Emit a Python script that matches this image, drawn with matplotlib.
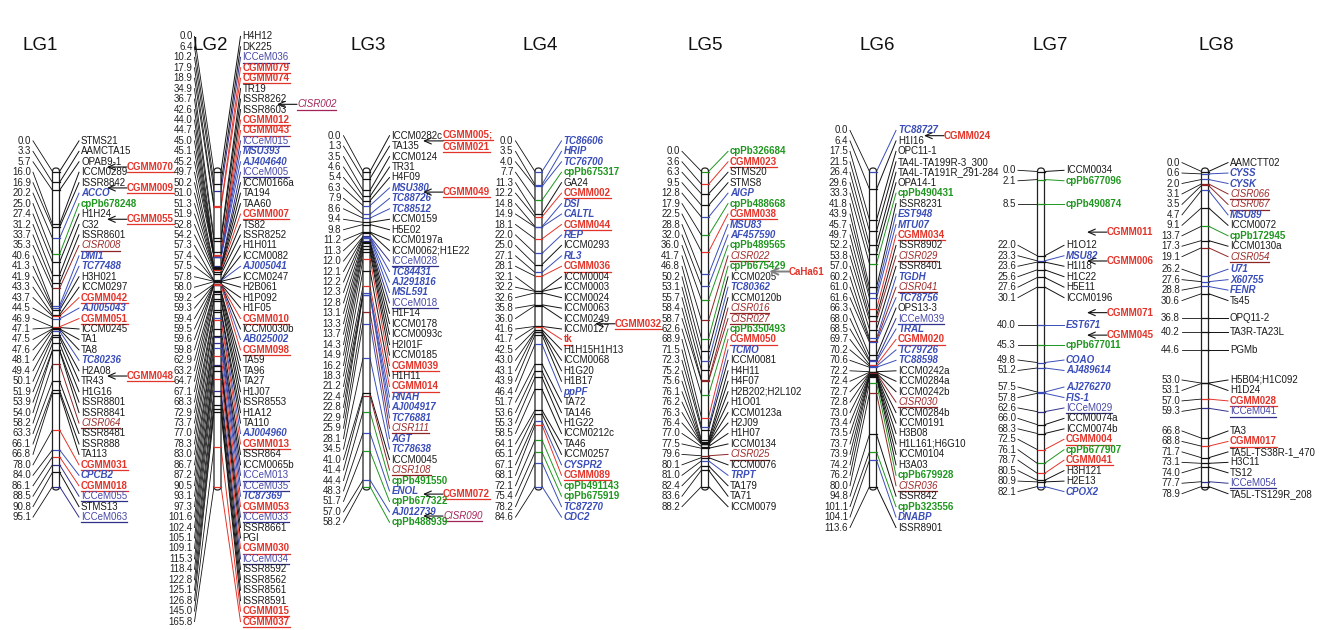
import matplotlib
matplotlib.use('Agg')
import matplotlib.pyplot as plt
from matplotlib.patches import FancyBboxPatch

plt.rcParams['font.family'] = ['Liberation Sans', 'DejaVu Sans']

# ---- data: positions (cM), marker names, marker class per linkage group ----
# classes: k plain, r CGMM, c CISR, b gene based, u ICCeM, p cpPb
lg1_pos = [0.0, 3.3, 5.7, 16.0, 16.9, 20.2, 25.0, 27.4, 31.2, 33.7, 35.3, 40.6, 41.3, 41.9,
           43.3, 43.7, 44.5, 46.9, 47.1, 47.5, 47.6, 48.1, 49.4, 50.1, 51.9, 53.9, 54.0, 58.2,
           63.3, 66.1, 66.8, 78.0, 84.0, 86.1, 88.5, 90.8, 95.1]
lg1_names = ['STMS21', 'AAMCTA15', 'OPAB9-1', 'ICCM0289', 'ISSR8842', 'ACCO', 'cpPb678248',
             'H1H24', 'C32', 'ISSR8601', 'CISR008', 'DMI1', 'TC77488', 'H3H021', 'ICCM0297',
             'CGMM042', 'AJ005043', 'CGMM051', 'ICCM0245', 'TA1', 'TA8', 'TC80236', 'H2A08',
             'TR43', 'H1G16', 'ISSR8801', 'ISSR8841', 'CISR064', 'ISSR8481', 'ISSR888', 'TA113',
             'CGMM031', 'CPCB2', 'CGMM018', 'ICCeM055', 'STMS13', 'ICCeM063']
lg1_types = ['k', 'k', 'k', 'k', 'k', 'b', 'p', 'k', 'k', 'k', 'c', 'b', 'b', 'k', 'k', 'r', 'b',
             'r', 'k', 'k', 'k', 'b', 'k', 'k', 'k', 'k', 'k', 'c', 'k', 'k', 'k', 'r', 'b', 'r',
             'u', 'k', 'u']
lg1_notes = [(2.5, 'CGMM070', 'r'), (4.5, 'CGMM009', 'r'), (7.5, 'CGMM055', 'r'),
             (22.5, 'CGMM048', 'r')]

lg2_pos = [0.0, 6.4, 10.2, 17.9, 18.9, 34.9, 36.7, 42.6, 44.0, 44.7, 45.0, 45.1, 45.2, 49.7,
           50.2, 51.0, 51.3, 51.9, 52.8, 54.2, 57.3, 57.4, 57.5, 57.8, 58.0, 59.2, 59.3, 59.4,
           59.5, 59.6, 59.8, 62.9, 63.2, 64.7, 67.1, 68.3, 72.9, 73.7, 77.0, 78.3, 83.0, 86.7,
           87.2, 90.5, 93.1, 97.3, 101.6, 102.4, 105.1, 109.1, 115.3, 118.4, 122.8, 125.1,
           126.8, 145.0, 165.8]
lg2_names = ['H4H12', 'DK225', 'ICCeM036', 'CGMM079', 'CGMM074', 'TR19', 'ISSR8262', 'ISSR8603',
             'CGMM012', 'CGMM043', 'ICCeM015', 'MSU393', 'AJ404640', 'ICCeM005', 'ICCM0166a',
             'TA194', 'TAA60', 'CGMM007', 'TS82', 'ISSR8252', 'H1H011', 'ICCM0082', 'AJ005041',
             'ICCM0247', 'H2B061', 'H1P092', 'H1F05', 'CGMM010', 'ICCM0030b', 'AB025002',
             'CGMM098', 'TA59', 'TA96', 'TA27', 'H1J07', 'ISSR8553', 'H1A12', 'TA110',
             'AJ004960', 'CGMM013', 'ISSR864', 'ICCM0065b', 'ICCeM013', 'ICCeM035', 'TC87369',
             'CGMM053', 'ICCeM033', 'ISSR8661', 'PGI', 'CGMM030', 'ICCeM034', 'ISSR8592',
             'ISSR8562', 'ISSR8561', 'ISSR8591', 'CGMM015', 'CGMM037']
lg2_types = ['k', 'k', 'u', 'r', 'r', 'k', 'k', 'k', 'r', 'r', 'u', 'b', 'b', 'u', 'k', 'k', 'k',
             'r', 'k', 'k', 'k', 'k', 'b', 'k', 'k', 'k', 'k', 'r', 'k', 'b', 'r', 'k', 'k', 'k',
             'k', 'k', 'k', 'k', 'b', 'r', 'k', 'k', 'u', 'u', 'b', 'r', 'u', 'k', 'k', 'r', 'u',
             'k', 'k', 'k', 'k', 'r', 'r']
lg2_notes = [(6.5, 'CISR002', 'm')]

lg3_pos = [0.0, 1.3, 3.5, 4.6, 5.4, 6.3, 7.9, 8.6, 9.4, 9.8, 11.2, 11.3, 12.0, 12.1, 12.2, 12.3,
           12.8, 13.1, 13.3, 13.7, 14.3, 14.9, 16.2, 18.3, 21.2, 22.4, 22.8, 22.9, 25.9, 28.1,
           34.5, 41.0, 41.4, 44.4, 48.3, 51.7, 57.0, 58.2]
lg3_names = ['ICCM0282c', 'TA135', 'ICCM0124', 'TR31', 'H4F09', 'MSU380', 'TC88726', 'TC88512',
             'ICCM0159', 'H5E02', 'ICCM0197a', 'ICCM0062;H1E22', 'ICCeM028', 'TC84431',
             'AJ291816', 'MSL591', 'ICCeM018', 'H1F14', 'ICCM0178', 'ICCM0093c', 'H2I01F',
             'ICCM0185', 'CGMM039', 'H1H11', 'CGMM014', 'RNAH', 'AJ004917', 'TC76881', 'CISR111',
             'AGT', 'TC78638', 'ICCM0045', 'CISR108', 'cpPb491550', 'ENOL', 'cpPb677322',
             'AJ012739', 'cpPb488939']
lg3_types = ['k', 'k', 'k', 'k', 'k', 'b', 'b', 'b', 'k', 'k', 'k', 'k', 'u', 'b', 'b', 'b', 'u',
             'k', 'k', 'k', 'k', 'k', 'r', 'k', 'r', 'b', 'b', 'b', 'c', 'b', 'b', 'k', 'c', 'p',
             'b', 'p', 'b', 'p']
lg3_notes = [(0.5, 'CGMM005;\nCGMM021', 'r'), (5.4, 'CGMM049', 'r'), (34.3, 'CGMM072', 'r'),
             (36.4, 'CISR090', 'm')]

lg4_pos = [0.0, 3.5, 4.0, 7.7, 11.3, 12.2, 14.8, 14.9, 18.1, 22.0, 25.0, 27.1, 28.1, 32.1, 32.2,
           32.6, 35.8, 36.0, 41.6, 41.7, 42.5, 43.0, 43.1, 43.9, 46.4, 51.7, 53.6, 55.3, 58.5,
           64.1, 65.1, 67.1, 68.1, 72.1, 75.4, 78.2, 84.6]
lg4_names = ['TC86606', 'HRIP', 'TC76700', 'cpPb675317', 'GA24', 'CGMM002', 'DSI', 'CALTL',
             'CGMM044', 'REP', 'ICCM0293', 'RL3', 'CGMM036', 'ICCM0004', 'ICCM0003', 'ICCM0024',
             'ICCM0063', 'ICCM0249', 'ICCM0127', 'tk', 'H1H15H1H13', 'ICCM0068', 'H1G20', 'H1B17',
             'ppPF', 'TA72', 'TA146', 'H1G22', 'ICCM0212c', 'TA46', 'ICCM0257', 'CYSPR2',
             'CGMM089', 'cpPb491143', 'cpPb675919', 'TC87270', 'CDC2']
lg4_types = ['b', 'b', 'b', 'p', 'k', 'r', 'b', 'b', 'r', 'b', 'k', 'b', 'r', 'k', 'k', 'k', 'k',
             'k', 'k', 'r', 'k', 'k', 'k', 'k', 'b', 'k', 'k', 'k', 'k', 'k', 'k', 'b', 'r', 'p',
             'p', 'b', 'b']
lg4_notes = [(17.5, 'CGMM032', 'r')]

lg5_pos = [0.0, 3.6, 6.3, 9.5, 12.8, 17.9, 22.5, 28.8, 32.0, 36.0, 41.7, 46.8, 50.2, 53.1, 55.7,
           58.4, 58.7, 62.6, 68.9, 71.5, 72.3, 75.2, 75.6, 76.1, 76.2, 76.3, 76.4, 77.0, 77.5,
           79.6, 80.1, 81.0, 82.4, 83.6, 88.2]
lg5_names = ['cpPb326684', 'CGMM023', 'STMS20', 'STMS8', 'AIGP', 'cpPb488668', 'CGMM038', 'MSU83',
             'AF457590', 'cpPb489565', 'CISR022', 'cpPb675429', 'ICCM0205', 'TC80362',
             'ICCM0120b', 'CISR016', 'CISR027', 'cpPb350493', 'CGMM050', 'TCMO', 'ICCM0081',
             'H4H11', 'H4F07', 'H2B202;H2L102', 'H1O01', 'ICCM0123a', 'H2J09', 'H1H07',
             'ICCM0134', 'CISR025', 'ICCM0076', 'TRPT', 'TA179', 'TA71', 'ICCM0079']
lg5_types = ['p', 'r', 'k', 'k', 'b', 'p', 'r', 'b', 'b', 'p', 'c', 'p', 'k', 'b', 'k', 'c', 'c',
             'p', 'r', 'b', 'k', 'k', 'k', 'k', 'k', 'k', 'k', 'k', 'k', 'c', 'k', 'b', 'k', 'k',
             'k']
lg5_notes = [(11.5, 'CaHa61', 'R')]

lg6_pos = [0.0, 6.4, 17.5, 21.5, 26.4, 29.6, 33.3, 41.8, 43.9, 45.7, 49.7, 52.2, 53.8, 57.0,
           60.2, 61.0, 61.6, 66.3, 68.0, 68.5, 69.7, 70.2, 70.6, 72.2, 72.4, 72.7, 72.8, 73.0,
           73.4, 73.5, 73.7, 73.9, 74.2, 76.2, 80.0, 94.8, 101.1, 104.1, 113.6]
lg6_names = ['TC88727', 'H1I16', 'OPC11-1', 'TA4L-TA199R-3_300', 'TA4L-TA191R_291-284',
             'OPA14-1', 'cpPb490431', 'ISSR8231', 'EST948', 'MTU07', 'CGMM034', 'ISSR8902',
             'CISR029', 'ISSR8401', 'TGDH', 'CISR041', 'TC78756', 'OPS13-3', 'ICCeM039', 'TRAL',
             'CGMM020', 'TC79726', 'TC88598', 'ICCM0242a', 'ICCM0284a', 'ICCM0242b', 'CISR030',
             'ICCM0284b', 'ICCM0191', 'H3B08', 'H1L161;H6G10', 'ICCM0104', 'H3A03', 'cpPb679928',
             'CISR036', 'ISSR842', 'cpPb323556', 'DNABP', 'ISSR8901']
lg6_types = ['b', 'k', 'k', 'k', 'k', 'k', 'p', 'k', 'b', 'b', 'r', 'k', 'c', 'k', 'b', 'c', 'b',
             'k', 'u', 'b', 'r', 'b', 'b', 'k', 'k', 'k', 'c', 'k', 'k', 'k', 'k', 'k', 'k', 'p',
             'c', 'k', 'p', 'b', 'k']
lg6_notes = [(0.5, 'CGMM024', 'R')]

lg7_pos = [0.0, 2.1, 8.5, 22.0, 23.3, 23.6, 25.6, 27.6, 30.1, 40.0, 45.3, 49.8, 51.2, 57.5, 57.8,
           62.6, 66.0, 68.3, 72.5, 76.1, 78.7, 80.5, 80.9, 82.1]
lg7_names = ['ICCM0034', 'cpPb677096', 'cpPb490874', 'H1O12', 'MSU82', 'H1I18', 'H1C22', 'H5E11',
             'ICCM0196', 'EST671', 'cpPb677011', 'COAO', 'AJ489614', 'AJ276270', 'FIS-1',
             'ICCeM029', 'ICCM0074a', 'ICCM0074b', 'CGMM004', 'cpPb677907', 'CGMM041', 'H3H121',
             'H2E13', 'CPOX2']
lg7_types = ['k', 'p', 'p', 'k', 'b', 'k', 'k', 'k', 'k', 'b', 'p', 'b', 'b', 'b', 'b', 'u', 'k',
             'k', 'r', 'p', 'r', 'k', 'k', 'b']
lg7_notes = [(2.68, 'CGMM011', 'R'), (4.5, 'CGMM006', 'R'), (8.55, 'CGMM071', 'R'),
             (9.5, 'CGMM045', 'R')]

lg8_pos = [0.0, 0.6, 2.0, 3.1, 3.5, 4.7, 9.1, 13.7, 17.3, 19.1, 26.2, 27.6, 28.8, 30.6, 36.8,
           40.2, 44.6, 53.0, 53.1, 57.0, 59.3, 66.8, 68.8, 71.7, 73.1, 74.0, 77.7, 78.9]
lg8_names = ['AAMCTT02', 'CYSS', 'CYSK', 'CISR066', 'CISR067', 'MSU89', 'ICCM0072', 'cpPb172945',
             'ICCM0130a', 'CISR054', 'U71', 'X60755', 'FENR', 'Ts45', 'OPQ11-2', 'TA3R-TA23L',
             'PGMb', 'H5B04;H1C092', 'H1D24', 'CGMM028', 'ICCeM041', 'TA3', 'CGMM017',
             'TA5L-TS38R-1_470', 'H3C11', 'TS12', 'ICCeM054', 'TA5L-TS129R_208']
lg8_types = ['k', 'b', 'b', 'c', 'c', 'b', 'k', 'p', 'k', 'c', 'b', 'b', 'b', 'k', 'k', 'k', 'k',
             'k', 'k', 'r', 'u', 'k', 'r', 'k', 'k', 'k', 'u', 'k']
lg8_notes = []

groups = [
    ('LG1', lg1_pos, lg1_names, lg1_types, lg1_notes),
    ('LG2', lg2_pos, lg2_names, lg2_types, lg2_notes),
    ('LG3', lg3_pos, lg3_names, lg3_types, lg3_notes),
    ('LG4', lg4_pos, lg4_names, lg4_types, lg4_notes),
    ('LG5', lg5_pos, lg5_names, lg5_types, lg5_notes),
    ('LG6', lg6_pos, lg6_names, lg6_types, lg6_notes),
    ('LG7', lg7_pos, lg7_names, lg7_types, lg7_notes),
    ('LG8', lg8_pos, lg8_names, lg8_types, lg8_notes),
]

# ---- layout (pixels) ----
centers = [56, 217.5, 366.5, 538.5, 705, 873, 1041, 1205]
title_x = [40, 210, 368, 540, 705, 877, 1050, 1216]
tip_off = [51, 59.5, 56.5, 56.5, 64, 51, 46, 50]
bar_top, bar_bot = 168, 490
map_top, map_bot = 171.5, 486.5
gap = 10.45
fs = 7

RED = '#e3342a'
styles = {
    'k': ('#1a1a1a', 'normal', 'normal', False, '#111111'),
    'r': (RED, 'bold', 'normal', True, RED),
    'R': (RED, 'bold', 'normal', False, RED),
    'c': ('#9e2b2b', 'normal', 'italic', True, '#8e2525'),
    'm': ('#a3245a', 'normal', 'italic', True, '#a3245a'),
    'b': ('#3a4db8', 'bold', 'italic', False, '#3a4db8'),
    'u': ('#4848a8', 'normal', 'normal', True, '#30308a'),
    'p': ('#1f961f', 'bold', 'normal', False, '#1f961f'),
}


def spread(desired, step):
    # push overlapping labels apart; each block sits on the mid-range of its markers
    clusters = [[i] for i in range(len(desired))]

    def start(cl):
        mid = (desired[cl[0]] + desired[cl[-1]]) / 2
        return mid - (len(cl) - 1) * step / 2

    merged = True
    while merged:
        merged = False
        for k in range(len(clusters) - 1):
            end_k = start(clusters[k]) + (len(clusters[k]) - 1) * step
            if start(clusters[k + 1]) - end_k < step - 1e-6:
                clusters[k] = clusters[k] + clusters.pop(k + 1)
                merged = True
                break
    ys = []
    for cl in clusters:
        s = start(cl)
        ys += [s + j * step for j in range(len(cl))]
    return ys


fig = plt.figure(figsize=(13.26, 6.30), dpi=100)
ax = fig.add_axes([0, 0, 1, 1])
ax.set_xlim(0, 1326)
ax.set_ylim(630, 0)
ax.axis('off')

underlined = []

for gi, (name, pos, names, types, notes) in enumerate(groups):
    c = centers[gi]
    span = max(pos)
    ybar = [map_top + p / span * (map_bot - map_top) for p in pos]
    ylab = spread(ybar, gap)

    ax.text(title_x[gi], 45, name, fontsize=13.5, ha='center', va='center', color='#111111')

    bar = FancyBboxPatch((c - 3.5, bar_top), 7, bar_bot - bar_top,
                         boxstyle='round,pad=0,rounding_size=3.5',
                         facecolor='white', edgecolor='#222222', lw=0.9, zorder=3)
    ax.add_patch(bar)

    for p, nm, t, yb, yl in zip(pos, names, types, ybar, ylab):
        col, wt, st, ul, lcol = styles[t]
        ax.plot([c - 23, c - 3.5], [yl, yb], color='#111111', lw=0.6, zorder=2)
        ax.plot([c + 3.5, c + 23], [yb, yl], color=lcol, lw=0.7, zorder=2)
        ax.plot([c - 3.5, c + 3.5], [yb, yb], color=lcol, lw=0.9, zorder=4)
        ax.text(c - 25, yl, f'{p:.1f}', fontsize=fs, ha='right', va='center', color='#222222')
        txt = ax.text(c + 25, yl, nm, fontsize=fs, ha='left', va='center', color=col,
                      fontweight=wt, fontstyle=st)
        if ul:
            underlined.append((txt, lcol))

    for row, label, t in notes:
        i0 = int(row)
        i1 = min(i0 + 1, len(ylab) - 1)
        y = ylab[i0] + (row - i0) * (ylab[i1] - ylab[i0])
        tip = c + tip_off[gi]
        col, wt, st, ul, lcol = styles[t]
        acol = '#808080' if label == 'CaHa61' else '#111111'
        alw = 1.4 if label == 'CaHa61' else 0.8
        ax.annotate('', xy=(tip, y), xytext=(tip + 20, y),
                    arrowprops=dict(arrowstyle='->,head_length=0.5,head_width=0.22',
                                    color=acol, lw=alw, shrinkA=0, shrinkB=0))
        lines = label.split('\n')
        for li, ln in enumerate(lines):
            yy = y + (li - (len(lines) - 1) / 2) * 12
            txt = ax.text(tip + 20, yy, ln, fontsize=fs, ha='left', va='center', color=col,
                          fontweight=wt, fontstyle=st)
            if ul:
                underlined.append((txt, lcol))

fig.canvas.draw()
renderer = fig.canvas.get_renderer()
inv = ax.transData.inverted()
for txt, col in underlined:
    bb = txt.get_window_extent(renderer)
    (x0, y0), (x1, y1) = inv.transform([[bb.x0, bb.y0], [bb.x1, bb.y1]])
    ax.plot([x0, x1], [y0 + 0.2, y0 + 0.2], color=col, lw=0.9)

fig.savefig('out.png', dpi=100)
